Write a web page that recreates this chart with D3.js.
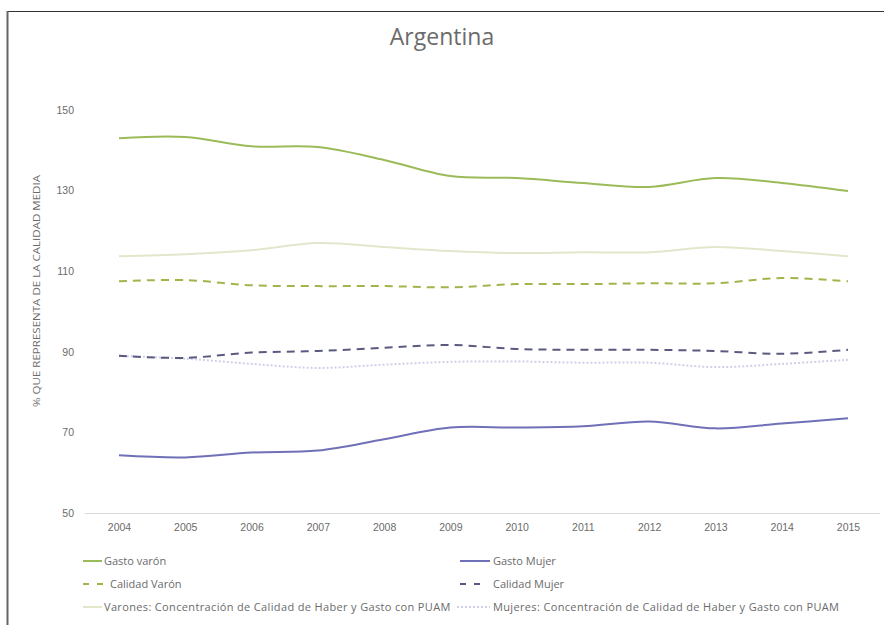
<!DOCTYPE html>
<html><head><meta charset="utf-8">
<script src="https://cdn.jsdelivr.net/npm/d3@7"></script>
<style>
body{margin:0;background:#fff;}
svg{font-family:"Open Sans","Roboto",sans-serif;}
</style></head>
<body><div id="chart"></div>
<script>
const years = [2004,2005,2006,2007,2008,2009,2010,2011,2012,2013,2014,2015];
const gastoVaron = [143.0,143.3,141.0,140.8,137.6,133.6,133.1,131.9,130.9,133.1,131.9,129.9];
const gastoMujer = [64.3,63.8,65.0,65.5,68.3,71.2,71.2,71.5,72.7,71.0,72.2,73.5];
const calidadVaron = [107.5,107.8,106.5,106.3,106.3,106.0,106.8,106.8,107.0,107.0,108.3,107.5];
const calidadMujer = [89.0,88.5,89.8,90.2,91.0,91.7,90.7,90.5,90.5,90.2,89.5,90.5];
const concVarones = [113.7,114.2,115.2,117.0,116.0,115.0,114.5,114.7,114.7,116.0,115.0,113.7];
const concMujeres = [89.0,88.3,87.0,86.0,86.8,87.5,87.6,87.3,87.3,86.2,87.0,88.0];
const yTicks = [50,70,90,110,130,150];

const W = 884, H = 625;
const svg = d3.select("#chart").append("svg").attr("width", W).attr("height", H);

// frame
svg.append("line").attr("x1",7.5).attr("x2",W).attr("y1",11.5).attr("y2",11.5).attr("stroke","#333").attr("stroke-width",1.2);
svg.append("line").attr("x1",7.5).attr("x2",7.5).attr("y1",11).attr("y2",H).attr("stroke","#666").attr("stroke-width",2);

svg.append("text").attr("x",442).attr("y",45).attr("text-anchor","middle")
  .attr("font-size",23).attr("fill","#6b6b6b").text("Argentina");

const x = d3.scalePoint().domain(years).range([119, 848]);
const y = d3.scaleLinear().domain([50,150]).range([513, 110]);

// baseline
svg.append("line").attr("x1",85).attr("x2",880).attr("y1",y(50)+0.5).attr("y2",y(50)+0.5).attr("stroke","#d9d9d9");

// y tick labels
const yAxis = d3.axisLeft(y).tickValues(yTicks).tickSize(0).tickPadding(0);
const gy = svg.append("g").attr("transform","translate(74,0)").call(yAxis);
gy.select(".domain").remove();
gy.selectAll("text").attr("font-size",10.5).attr("fill","#6b6b6b").attr("font-family","inherit");

// x tick labels
const xAxis = d3.axisBottom(x).tickSize(0).tickPadding(0);
const gx = svg.append("g").attr("transform",`translate(0,${y(50)+11})`).call(xAxis);
gx.select(".domain").remove();
gx.selectAll("text").attr("font-size",10.5).attr("fill","#6b6b6b").attr("font-family","inherit");

// y axis title
svg.append("text").attr("transform","translate(40,291) rotate(-90)").attr("text-anchor","middle")
  .attr("font-size",9.5).attr("fill","#6b6b6b")
  .attr("textLength",232).attr("lengthAdjust","spacingAndGlyphs")
  .text("% QUE REPRESENTA DE LA CALIDAD MEDIA");

const series = [
  {name:"Gasto varón", data:gastoVaron, color:"#9bbb59", width:2, dash:null},
  {name:"Gasto Mujer", data:gastoMujer, color:"#7070b8", width:2, dash:null},
  {name:"Calidad Varón", data:calidadVaron, color:"#a3b54a", width:2, dash:"8,6"},
  {name:"Calidad Mujer", data:calidadMujer, color:"#5a5a80", width:2, dash:"8,6"},
  {name:"Varones: Concentración de Calidad de Haber y Gasto con PUAM", data:concVarones, color:"#e4e6cc", width:2, dash:null},
  {name:"Mujeres: Concentración de Calidad de Haber y Gasto con PUAM", data:concMujeres, color:"#cfcfe8", width:2, dash:"2,2"}
];

const line = d3.line().x((d,i)=>x(years[i])).y(d=>y(d)).curve(d3.curveCatmullRom.alpha(0.5));
[4,5,0,1,2,3].forEach(k=>{
  const s = series[k];
  svg.append("path").attr("d", line(s.data)).attr("fill","none")
    .attr("stroke", s.color).attr("stroke-width", s.width)
    .attr("stroke-dasharray", s.dash);
});

// legend
const legendPos = [
  {x:83, y:561, len:19, tx:104}, {x:460, y:561, len:30, tx:493},
  {x:83, y:584, len:20, tx:110}, {x:460, y:584, len:25, tx:493},
  {x:83, y:607, len:19, tx:104}, {x:457, y:607, len:33, tx:493}
];
series.forEach((s,i)=>{
  const p = legendPos[i];
  const g = svg.append("g");
  g.append("line").attr("x1",p.x).attr("x2",p.x+p.len).attr("y1",p.y).attr("y2",p.y)
    .attr("stroke",s.color).attr("stroke-width",2).attr("stroke-dasharray",s.dash ? (s.dash==="8,6"?"6,8":s.dash) : null);
  g.append("text").attr("x",p.tx).attr("y",p.y+4).attr("font-size",11).attr("fill","#6b6b6b")
    .attr("letter-spacing", i>=4 ? 0.35 : 0)
    .text(s.name);
});
</script>
</body></html>
